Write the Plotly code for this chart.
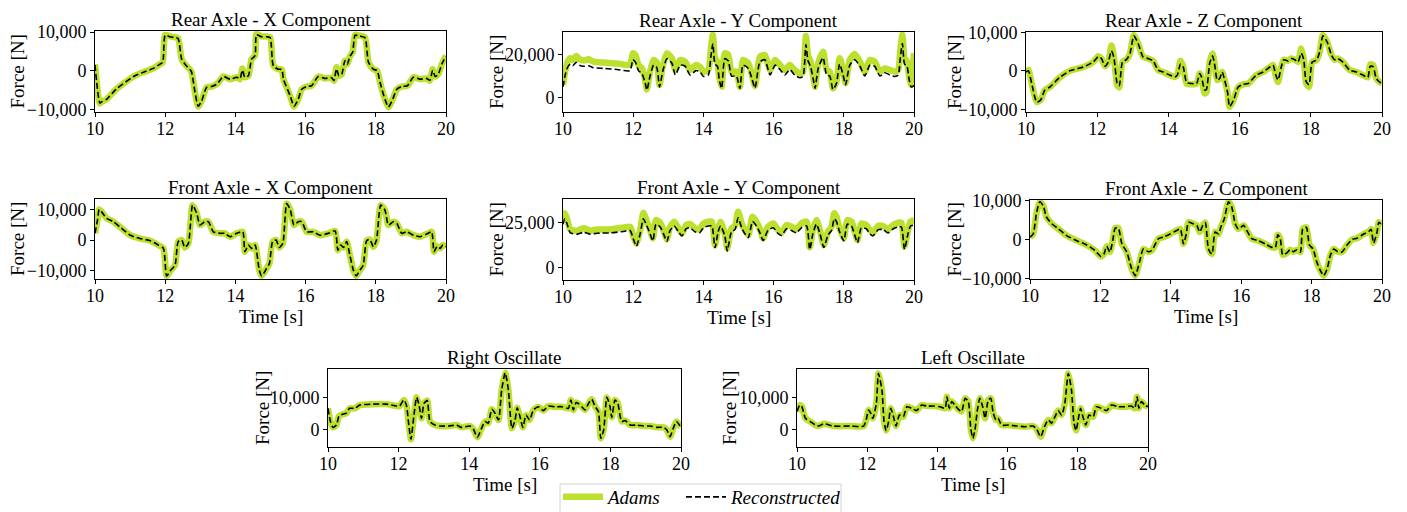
import plotly.graph_objects as go

# ---------------- data ----------------
t_rear_x = [10.0, 10.14, 10.2, 10.33, 10.6, 11.1, 11.4, 11.66, 11.85, 11.93, 12.0, 12.14, 12.28, 12.37,
            12.47, 12.6, 12.7, 12.75, 12.85, 12.94, 13.04, 13.18, 13.32, 13.47, 13.66, 13.85, 14.04,
            14.13, 14.2, 14.27, 14.37, 14.46, 14.56, 14.6, 14.75, 14.9, 14.99, 15.08, 15.22, 15.32,
            15.37, 15.56, 15.67, 15.79, 15.89, 16.03, 16.17, 16.36, 16.55, 16.74, 16.81, 16.88, 16.95,
            17.03, 17.12, 17.19, 17.26, 17.34, 17.41, 17.53, 17.69, 17.79, 17.93, 18.04, 18.12, 18.26,
            18.36, 18.48, 18.6, 18.74, 18.9, 19.07, 19.26, 19.45, 19.54, 19.62, 19.69, 19.78, 19.88, 20.0]
adams_rear_x = [1700, -8500, -8000, -7400, -4800, -1500, -300, 600, 1700, 2200, 9300, 8900, 8700, 8400,
                3000, 1300, 400, -300, -5600, -9300, -7800, -4300, -4100, -3500, -1500, -2200, -1700,
                -2200, 600, -1700, -1300, 3000, 3900, 9500, 8900, 8900, 8700, 1300, 400, 300,
                -2200, -6500, -9300, -7400, -4800, -4100, -3900, -1500, -2000, -1800, -2600, 900, -1300,
                -900, 2600, 1700, 3700, 4800, 9300, 9100, 8700, 2200, 400, 0, -3000, -7400,
                -9500, -7400, -4800, -4100, -3900, -1700, -2200, -2000, -2600, 400, -1500, -900, 1700, 3900]
recon_rear_x = [1500, -8400, -8000, -7400, -4800, -1500, -300, 600, 1700, 2200, 9200, 8800, 8600, 8300,
                3000, 1300, 400, -300, -5600, -9200, -7800, -4300, -4100, -3500, -1500, -2200, -1700,
                -2100, 200, -1700, -1300, 3000, 3900, 9300, 8800, 8800, 8600, 1300, 400, 300,
                -2200, -6500, -9200, -7400, -4800, -4100, -3900, -1500, -2000, -1800, -2500, 500, -1300,
                -900, 2600, 1700, 3700, 4800, 9200, 9000, 8600, 2200, 400, 0, -3000, -7400,
                -9400, -7400, -4800, -4100, -3900, -1700, -2200, -2000, -2500, 100, -1500, -900, 1700, 3800]

t_rear_y = [10.0, 10.07, 10.13, 10.21, 10.28, 10.38, 10.47, 10.59, 10.73, 10.87, 11.16, 11.54, 11.91,
            11.99, 12.06, 12.15, 12.25, 12.34, 12.39, 12.48, 12.58, 12.67, 12.75, 12.84, 12.96, 13.1,
            13.2, 13.34, 13.48, 13.62, 13.79, 13.9, 14.0, 14.14, 14.21, 14.27, 14.33, 14.4, 14.45,
            14.52, 14.61, 14.71, 14.8, 14.94, 15.04, 15.13, 15.28, 15.37, 15.47, 15.61, 15.75, 15.9,
            16.04, 16.18, 16.32, 16.46, 16.6, 16.75, 16.84, 16.92, 16.98, 17.05, 17.13, 17.18, 17.27,
            17.41, 17.51, 17.6, 17.69, 17.79, 17.88, 17.98, 18.05, 18.17, 18.31, 18.46, 18.6, 18.74,
            18.88, 19.03, 19.17, 19.31, 19.45, 19.55, 19.61, 19.67, 19.73, 19.8, 19.86, 19.92, 20.0]
adams_rear_y = [5800, 12800, 16600, 18200, 17400, 19200, 17700, 17100, 17700, 16600, 16200, 15800, 15100,
                20500, 19700, 15100, 13500, 8200, 3800, 12000, 17400, 16200, 5800, 14300, 20500, 18200,
                12800, 17400, 16600, 12800, 15100, 14300, 12000, 12800, 22000, 29000, 18200, 16600, 9700,
                5000, 20500, 19700, 12000, 12000, 5000, 17400, 15800, 11200, 5400, 18900, 19700, 12800,
                17400, 15100, 12800, 15100, 12800, 11200, 12000, 28500, 19700, 16600, 9700, 5000, 15800,
                21200, 12800, 12000, 4300, 7400, 18200, 12800, 6800, 17400, 20200, 16600, 12000, 17400,
                16600, 12000, 13500, 12800, 12000, 12800, 22000, 29000, 18200, 16600, 9700, 5800, 20500]
recon_rear_y = [5000, 11000, 14000, 15500, 14800, 16300, 15000, 14500, 14700, 13800, 13500, 13000, 12500,
                17500, 16500, 12500, 11000, 7000, 3500, 10000, 15000, 14000, 5000, 12000, 18000, 16000,
                10500, 15000, 14500, 10500, 12500, 12000, 9800, 10500, 18500, 25000, 15500, 14500, 8500,
                4300, 18000, 17000, 10000, 10000, 4300, 15000, 13500, 9500, 4500, 16500, 17500, 10500,
                15000, 13000, 10500, 13000, 10500, 9200, 10000, 24500, 17000, 14500, 8500, 4300, 13500,
                18500, 10500, 10000, 3800, 6500, 15500, 10500, 6000, 15000, 17500, 14500, 10000, 15000,
                14500, 10000, 11500, 10500, 9800, 10500, 18500, 25000, 15500, 14500, 8500, 5000, 5500]

t_rear_z = [10.0, 10.07, 10.16, 10.3, 10.41, 10.53, 10.67, 10.95, 11.23, 11.61, 11.89, 12.03, 12.12,
            12.22, 12.31, 12.4, 12.47, 12.56, 12.62, 12.71, 12.82, 12.92, 13.03, 13.15, 13.29, 13.43,
            13.57, 13.71, 13.85, 14.04, 14.18, 14.25, 14.34, 14.42, 14.51, 14.65, 14.79, 14.88, 14.93,
            15.02, 15.07, 15.16, 15.24, 15.31, 15.37, 15.44, 15.51, 15.58, 15.66, 15.72, 15.83, 15.96,
            16.1, 16.24, 16.47, 16.66, 16.85, 16.94, 17.01, 17.08, 17.17, 17.24, 17.36, 17.45, 17.55,
            17.64, 17.73, 17.8, 17.87, 17.95, 18.04, 18.16, 18.25, 18.34, 18.46, 18.58, 18.67, 18.76,
            18.9, 19.09, 19.28, 19.46, 19.6, 19.67, 19.75, 19.84, 19.93, 20.0]
adams_rear_z = [-300, 200, -3300, -8100, -7600, -5000, -4200, -1700, 0, 1000, 2300, 3800, 3200,
                1200, 2300, 6600, 3600, -3700, -4300, 2300, 2900, 4500, 9300, 7100, 3600, 3200,
                2600, 200, -300, -1100, -1600, -1100, 2600, 1000, -3300, -3500, -3300, -700, -1600,
                -5900, -5500, 2300, 4500, 1000, -2400, -2000, -300, -2400, -5500, -9400, -7600, -4200,
                -3500, -3300, -1100, -300, 1000, 1500, -1100, -2900, 1000, 2900, 2600, 3200, 2900,
                2300, 5800, 3200, -3300, -4200, 2300, 2800, 4900, 9300, 7500, 4100, 2900, 3200,
                2300, 200, -300, -1100, -1700, 1700, 1500, -2000, -2900, -3300]
recon_rear_z = [-300, 0, -3300, -8100, -7600, -5000, -4200, -1700, 0, 1000, 2300, 3700, 3200,
                1200, 2300, 5200, 3400, -3200, -3900, 2300, 2900, 4500, 9100, 7100, 3600, 3200,
                2600, 200, -300, -1100, -1600, -1100, 1800, 900, -3000, -3300, -3300, -700, -1600,
                -5000, -4800, 2000, 3900, 1000, -2400, -2000, -300, -2400, -5500, -9300, -7600, -4200,
                -3500, -3300, -1100, -300, 1000, 1500, -900, -2400, 1000, 2900, 2600, 3200, 2900,
                2300, 4600, 3000, -2800, -3600, 2300, 2800, 4900, 9100, 7500, 4100, 2900, 3200,
                2300, 200, -300, -1100, -1700, 1200, 1100, -2000, -2900, -3300]

t_front_x = [10.0, 10.07, 10.12, 10.19, 10.33, 10.52, 10.71, 11.0, 11.28, 11.57, 11.8, 11.95, 12.04,
             12.16, 12.28, 12.37, 12.47, 12.56, 12.66, 12.78, 12.9, 12.99, 13.13, 13.23, 13.37, 13.56,
             13.7, 13.85, 14.04, 14.21, 14.27, 14.37, 14.46, 14.56, 14.68, 14.75, 14.89, 14.97, 15.06,
             15.16, 15.25, 15.35, 15.46, 15.56, 15.67, 15.79, 15.89, 16.03, 16.22, 16.41, 16.65, 16.84,
             16.92, 17.0, 17.08, 17.17, 17.26, 17.36, 17.44, 17.55, 17.64, 17.74, 17.83, 17.93, 18.02,
             18.14, 18.26, 18.36, 18.5, 18.6, 18.74, 18.88, 19.07, 19.26, 19.45, 19.59, 19.66, 19.75,
             19.83, 19.91, 20.0]
adams_front_x = [2200, 6500, 10000, 9200, 7100, 6000, 4300, 1600, 500, -200, -1600, -2700, -11700,
                 -9800, -8200, -500, 0, -2400, -1100, 11400, 8700, 4900, 6000, 6000, 2700, 2200,
                 2200, 1100, 2200, 2700, -3800, -1600, -2700, -1600, -9800, -11700, -9200, -7600, -500,
                 0, -2400, -1100, 11900, 10000, 4900, 6000, 6000, 2700, 2700, 1600, 2200, 3000,
                 -3300, -1600, -2400, -500, -4900, -9800, -11700, -9800, -8200, -200, 200, -2200, 0,
                 11400, 9800, 4900, 6000, 5400, 2200, 2700, 1600, 1100, 2000, 2700, -3800, -2000,
                 -2700, -1600, -2200]
recon_front_x = adams_front_x

t_front_y = [10.0, 10.05, 10.11, 10.21, 10.4, 10.59, 10.78, 10.97, 11.35, 11.73, 11.91, 12.01, 12.09,
             12.2, 12.29, 12.39, 12.48, 12.56, 12.65, 12.77, 12.86, 12.96, 13.05, 13.17, 13.29, 13.39,
             13.51, 13.62, 13.76, 13.89, 14.0, 14.14, 14.24, 14.33, 14.42, 14.49, 14.61, 14.68, 14.8,
             14.9, 14.99, 15.09, 15.18, 15.28, 15.4, 15.51, 15.62, 15.7, 15.84, 15.99, 16.13, 16.23,
             16.37, 16.51, 16.65, 16.79, 16.94, 17.03, 17.12, 17.22, 17.32, 17.43, 17.55, 17.65, 17.73,
             17.79, 17.88, 18.0, 18.1, 18.22, 18.31, 18.39, 18.5, 18.64, 18.74, 18.83, 18.98, 19.12,
             19.26, 19.41, 19.55, 19.64, 19.73, 19.83, 19.9, 20.0]
adams_front_y = [26300, 30000, 27200, 21100, 20400, 21700, 20400, 21100, 21100, 22200, 22600, 17100, 13400,
                 20800, 30300, 25400, 20800, 16200, 26300, 24800, 20800, 15700, 22600, 25400, 21700, 18900,
                 23500, 24100, 21700, 21100, 24400, 25400, 25400, 12500, 21700, 25400, 18900, 10700, 21700,
                 23000, 30900, 24400, 20800, 18000, 28100, 25400, 20800, 16200, 22600, 24400, 20800, 19300,
                 23500, 22600, 21100, 24400, 25400, 11200, 20800, 26300, 20800, 12500, 19800, 22600, 30000,
                 28100, 21700, 16200, 26300, 25400, 19800, 15300, 24400, 23500, 20800, 19300, 23000, 23000,
                 21100, 23500, 24800, 24800, 11600, 20800, 25400, 26300]
recon_front_y = [24000, 27000, 24500, 19200, 18500, 19500, 18500, 19000, 19200, 20000, 20500, 15500, 11800,
                 18800, 27000, 23000, 18800, 14800, 24000, 22500, 18800, 14500, 20500, 23000, 19800, 17500,
                 21500, 22000, 19800, 19200, 22000, 23000, 23000, 11000, 19800, 23000, 17500, 9200, 19800,
                 21000, 27500, 22000, 18800, 16500, 25500, 23000, 18800, 15000, 20500, 22000, 18800, 17800,
                 21500, 20500, 19200, 22000, 23000, 10000, 18800, 24000, 18800, 11200, 18000, 20500, 27000,
                 25500, 19800, 14800, 24000, 23000, 18000, 13800, 22000, 21500, 18800, 17500, 21000, 21000,
                 19200, 21500, 22500, 22500, 10200, 18800, 23000, 23500]

t_front_z = [10.0, 10.09, 10.19, 10.28, 10.38, 10.47, 10.62, 10.81, 11.04, 11.33, 11.61, 11.85, 12.01,
             12.1, 12.18, 12.27, 12.35, 12.42, 12.51, 12.61, 12.75, 12.89, 12.99, 13.11, 13.22, 13.36,
             13.46, 13.65, 13.79, 13.98, 14.17, 14.27, 14.36, 14.44, 14.5, 14.64, 14.74, 14.82, 14.91,
             14.98, 15.07, 15.17, 15.26, 15.36, 15.42, 15.52, 15.64, 15.73, 15.83, 15.92, 16.07, 16.16,
             16.3, 16.49, 16.68, 16.87, 16.97, 17.04, 17.11, 17.18, 17.3, 17.39, 17.49, 17.58, 17.68,
             17.75, 17.85, 17.94, 18.04, 18.15, 18.25, 18.34, 18.44, 18.53, 18.63, 18.74, 18.86, 19.0,
             19.15, 19.29, 19.48, 19.62, 19.69, 19.76, 19.86, 19.91, 20.0]
adams_front_z = [600, 1400, 7000, 9600, 8500, 5700, 4000, 2700, 1000, -300, -1400, -2800, -4300,
                 -3700, -1700, -3200, -300, 2900, 2900, -1100, -3200, -7500, -9200, -5800, -2400, -3100,
                 -2800, 200, 600, 1400, 2300, 2700, -1100, 1400, 4400, 4000, 3600, 1900, 3600,
                 4300, -2400, -3700, 1900, 1400, 3100, 5300, 9600, 8300, 4000, 2700, 3600, 2300,
                 200, -300, -1100, -2000, -2000, 1200, 200, -3900, -3400, -2600, -3100, -2600, -3200,
                 2700, 3100, -1400, -2400, -5800, -7900, -9200, -7500, -4100, -2400, -3100, -3200, -1500,
                 0, 300, 1400, 2000, 2600, -900, 1900, 4400, 3600]
recon_front_z = adams_front_z

t_right_osc = [10.0, 10.07, 10.14, 10.24, 10.31, 10.43, 10.52, 10.61, 10.76, 10.9, 11.28, 11.66, 11.94,
               12.03, 12.15, 12.22, 12.29, 12.35, 12.43, 12.51, 12.58, 12.65, 12.72, 12.81, 12.89, 13.03,
               13.17, 13.41, 13.64, 13.78, 14.02, 14.12, 14.23, 14.35, 14.45, 14.54, 14.64, 14.73, 14.83,
               14.92, 15.02, 15.11, 15.21, 15.3, 15.36, 15.44, 15.52, 15.61, 15.71, 15.82, 15.96, 16.1,
               16.24, 16.43, 16.62, 16.81, 16.88, 16.95, 17.03, 17.09, 17.19, 17.28, 17.38, 17.47, 17.57,
               17.66, 17.73, 17.81, 17.9, 17.99, 18.04, 18.13, 18.21, 18.32, 18.42, 18.56, 18.75, 18.94,
               19.13, 19.32, 19.51, 19.6, 19.69, 19.78, 19.87, 20.0]
adams_right_osc = [6700, 2600, 800, 1500, 4300, 4900, 5200, 6700, 6700, 7700, 8000, 8000, 7400,
                   7400, 9300, 7700, 1500, -2900, 4100, 10100, 7700, 3600, 8200, 9100, 2600, 1500,
                   1200, 1200, 1500, 800, 1200, 200, -2300, 500, 2600, 2100, 6400, 5200, 3100,
                   12400, 17700, 12400, 500, 3100, 6900, 4100, 800, 4600, 3100, 6200, 7200, 6000,
                   7400, 7200, 7200, 6700, 9300, 6200, 8500, 8200, 7200, 6200, 8200, 9500, 7200,
                   5700, -2600, 0, 10100, 7200, 3900, 9300, 8200, 2600, 2900, 1500, 1500, 1200,
                   1200, 800, 800, 0, -2100, 500, 2600, 800]
recon_right_osc = adams_right_osc

t_left_osc = [10.0, 10.08, 10.14, 10.24, 10.38, 10.52, 10.62, 10.76, 11.04, 11.52, 11.9, 11.97, 12.04,
              12.1, 12.16, 12.26, 12.32, 12.42, 12.48, 12.54, 12.61, 12.67, 12.75, 12.82, 12.92, 13.03,
              13.13, 13.27, 13.41, 13.55, 13.7, 13.89, 14.08, 14.22, 14.27, 14.34, 14.41, 14.5, 14.6,
              14.69, 14.79, 14.88, 14.95, 15.01, 15.07, 15.14, 15.21, 15.29, 15.36, 15.45, 15.52, 15.59,
              15.67, 15.73, 15.83, 16.02, 16.26, 16.5, 16.73, 16.83, 16.94, 17.06, 17.16, 17.25, 17.35,
              17.44, 17.54, 17.63, 17.73, 17.82, 17.89, 17.95, 18.01, 18.08, 18.15, 18.23, 18.32, 18.44,
              18.53, 18.67, 18.82, 18.96, 19.15, 19.34, 19.53, 19.62, 19.69, 19.74, 19.81, 19.91, 20.0]
adams_left_osc = [5700, 7700, 7200, 3600, 2600, 1500, 1200, 1900, 1200, 1200, 1200, 3100, 6200,
                  5200, 3600, 8200, 17500, 12400, 2600, -200, 2600, 6700, 4100, 1200, 4600, 4100,
                  7200, 6700, 6000, 7700, 7400, 7400, 7200, 6700, 10300, 6700, 8800, 7700, 6400,
                  5700, 9800, 8800, 500, -2600, 0, 6200, 9800, 7200, 3600, 9300, 9800, 5200,
                  3100, 3600, 1500, 1500, 1200, 1000, 1200, 200, -2100, 1200, 3100, 2100, 4100,
                  6000, 4600, 8200, 17500, 12400, 2300, -200, 3100, 6700, 3900, 1500, 4600, 4100,
                  7200, 6700, 6000, 7700, 7200, 7200, 7400, 6700, 10300, 6700, 8800, 7700, 7200]
recon_left_osc = adams_left_osc

titles = ["Rear Axle - X Component", "Rear Axle - Y Component", "Rear Axle - Z Component",
          "Front Axle - X Component", "Front Axle - Y Component", "Front Axle - Z Component",
          "Right Oscillate", "Left Oscillate"]
times = [t_rear_x, t_rear_y, t_rear_z, t_front_x, t_front_y, t_front_z, t_right_osc, t_left_osc]
adams = [adams_rear_x, adams_rear_y, adams_rear_z, adams_front_x, adams_front_y, adams_front_z,
         adams_right_osc, adams_left_osc]
recon = [recon_rear_x, recon_rear_y, recon_rear_z, recon_front_x, recon_front_y, recon_front_z,
         recon_right_osc, recon_left_osc]
y_tickvals = [[-10000, 0, 10000], [0, 20000], [-10000, 0, 10000],
              [-10000, 0, 10000], [0, 25000], [-10000, 0, 10000],
              [0, 10000], [0, 10000]]
x_tickvals = [10, 12, 14, 16, 18, 20]

# ---------------- layout (pixel boxes in the 1407x512 window) ----------------
W, H = 1407, 512


def px(x):
    return x / W


def py(y):
    return 1 - y / H


boxes = [(95, 446, 31, 112), (563, 914, 32, 112), (1026, 1382, 32, 112),
         (95, 446, 199, 279), (563, 914, 199, 280), (1030, 1382, 200, 279),
         (328, 681, 369, 447), (797, 1148, 369, 447)]
y_ranges = [[-10700, 10300], [-6600, 30300], [-10700, 10100],
            [-12700, 13400], [-6800, 37900], [-10050, 10050],
            [-5300, 18900], [-5300, 18900]]
ylabel_x = [17, 496, 954, 17, 496, 954, 262, 729]
show_xlabel = [False, False, False, True, True, True, True, True]

GREEN = "#bbe02e"
FONT = "Liberation Serif"
FS = 19
FS_TICK = 18

fig = go.Figure()
annotations = []
for i in range(8):
    n = i + 1
    xa = "x" if n == 1 else f"x{n}"
    ya = "y" if n == 1 else f"y{n}"
    fig.add_trace(go.Scatter(x=times[i], y=adams[i], xaxis=xa, yaxis=ya, mode="lines",
                             name="<i>Adams</i>&nbsp;&nbsp;&nbsp;", legendgroup="a",
                             showlegend=(i == 0),
                             line=dict(color=GREEN, width=6.5, shape="spline", smoothing=0.6)))
    fig.add_trace(go.Scatter(x=times[i], y=recon[i], xaxis=xa, yaxis=ya, mode="lines",
                             name="<i>Reconstructed</i>", legendgroup="r", showlegend=(i == 0),
                             line=dict(color="black", width=1.6, dash="6px,3px",
                                       shape="spline", smoothing=0.6)))
    x0, x1, y0, y1 = boxes[i]
    axkey = "xaxis" if n == 1 else f"xaxis{n}"
    aykey = "yaxis" if n == 1 else f"yaxis{n}"
    common = dict(showgrid=False, zeroline=False, showline=True, linecolor="black", linewidth=1,
                  mirror=True, ticks="outside", ticklen=4, tickcolor="black",
                  tickfont=dict(family=FONT, size=FS_TICK, color="black"))
    fig.layout[axkey] = dict(domain=[px(x0), px(x1)], anchor=ya, range=[10, 20],
                             tickvals=x_tickvals, ticklabelstandoff=-4, **common)
    fig.layout[aykey] = dict(domain=[py(y1), py(y0)], anchor=xa, range=y_ranges[i],
                             tickvals=y_tickvals[i], tickformat=",d", **common)
    annotations.append(dict(text=titles[i], x=px((x0 + x1) / 2), y=py(y0 - 12),
                            xref="paper", yref="paper", xanchor="center", yanchor="middle",
                            showarrow=False, font=dict(family=FONT, size=FS, color="black")))
    annotations.append(dict(text="Force [N]", x=px(ylabel_x[i]), y=py((y0 + y1) / 2),
                            xref="paper", yref="paper", xanchor="center", yanchor="middle",
                            textangle=-90, showarrow=False,
                            font=dict(family=FONT, size=FS, color="black")))
    if show_xlabel[i]:
        annotations.append(dict(text="Time [s]", x=px((x0 + x1) / 2), y=py(y1 + 37),
                                xref="paper", yref="paper", xanchor="center", yanchor="middle",
                                showarrow=False, font=dict(family=FONT, size=FS, color="black")))

# legend frame (cut by the bottom edge, as in the reference)
legend_frame = dict(type="rect", xref="paper", yref="paper",
                    x0=px(560), x1=px(841), y0=py(530), y1=py(484),
                    line=dict(color="#d4d4d4", width=1), fillcolor="white", layer="below")

fig.update_layout(
    width=W, height=H, autosize=False,
    margin=dict(l=0, r=0, t=0, b=0, autoexpand=False),
    paper_bgcolor="white", plot_bgcolor="white",
    annotations=annotations,
    shapes=[legend_frame],
    showlegend=True,
    legend=dict(orientation="h", x=px(558), y=py(478), xanchor="left", yanchor="top",
                borderwidth=0, bgcolor="rgba(0,0,0,0)",
                font=dict(family=FONT, size=FS, color="black"), itemwidth=40,
                tracegroupgap=0),
)

# the page's default 8px body margin would shift the figure; remove it so the
# 1407x512 figure fills the window exactly
fig.write_html("out.html", config={"displayModeBar": False},
               post_script="document.body.style.margin='0';document.body.style.overflow='hidden';")
